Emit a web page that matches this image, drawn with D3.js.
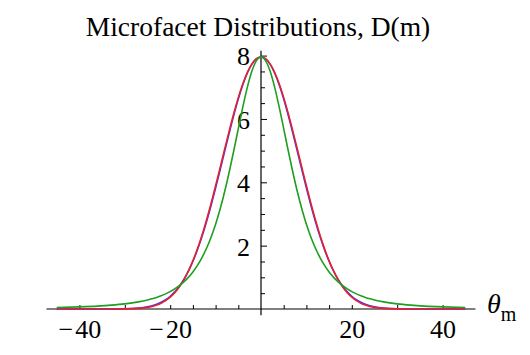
<!DOCTYPE html>
<html><head><meta charset="utf-8">
<script src="https://cdn.jsdelivr.net/npm/d3@7"></script>
<style>html,body{margin:0;padding:0;background:#fff;}svg{display:block;}</style>
</head><body>
<svg id="chart" width="530" height="355"></svg>
<script>
const title = "Microfacet Distributions, D(m)";
const thetas = [-45,-40,-36,-33,-30,-27,-25,-24,-23,-22,-21,-20,-19,-18,-17,-16,-15,-14,-13,-12,-11,-10,-9,-8,-7,-6,-5,-4,-3,-2,-1,0,1,2,3,4,5,6,7,8,9,10,11,12,13,14,15,16,17,18,19,20,21,22,23,24,25,27,30,33,36,40,45];
// Beckmann (red)
const beckmann = [0,0,0,0.0004,0.003,0.019,0.051,0.081,0.123,0.182,0.263,0.372,0.514,0.695,0.920,1.193,1.519,1.898,2.329,2.809,3.333,3.889,4.466,5.051,5.625,6.171,6.673,7.111,7.471,7.738,7.902,7.958,7.902,7.738,7.471,7.111,6.673,6.171,5.625,5.051,4.466,3.889,3.333,2.809,2.329,1.898,1.519,1.193,0.920,0.695,0.514,0.372,0.263,0.182,0.123,0.081,0.051,0.019,0.003,0.0004,0,0,0];
// Phong (blue)
const phong = [0,0,0.0003,0.002,0.008,0.031,0.071,0.104,0.149,0.211,0.294,0.402,0.541,0.716,0.932,1.195,1.507,1.872,2.289,2.756,3.268,3.817,4.391,4.977,5.557,6.114,6.627,7.079,7.451,7.729,7.900,7.958,7.900,7.729,7.451,7.079,6.627,6.114,5.557,4.977,4.391,3.817,3.268,2.756,2.289,1.872,1.507,1.195,0.932,0.716,0.541,0.402,0.294,0.211,0.149,0.104,0.071,0.031,0.008,0.002,0.0003,0,0];
// GGX (green)
const ggx = [0.047,0.067,0.092,0.121,0.162,0.225,0.285,0.322,0.366,0.417,0.478,0.549,0.634,0.734,0.855,0.998,1.170,1.376,1.623,1.917,2.266,2.678,3.158,3.709,4.325,4.995,5.693,6.381,7.006,7.512,7.843,7.958,7.843,7.512,7.006,6.381,5.693,4.995,4.325,3.709,3.158,2.678,2.266,1.917,1.623,1.376,1.170,0.998,0.855,0.734,0.634,0.549,0.478,0.417,0.366,0.322,0.285,0.225,0.162,0.121,0.092,0.067,0.047];
const xTicks = [-40,-30,-20,-15,-10,-5,5,10,15,20,30,40];
const xLabels = [-40,-20,20,40];
const yTicks = [0.5,1,1.5,2,2.5,3,3.5,4,4.5,5,5.5,6,6.5,7,7.5,8];
const yLabels = [2,4,6,8];

const series = [
  {name:"Phong", values: phong, color:"#3a3aff"},
  {name:"Beckmann", values: beckmann, color:"#e8202a"},
  {name:"GGX", values: ggx, color:"#1f9e1f"}
];

const svg = d3.select("#chart");
const font = "'Liberation Serif', 'Times New Roman', serif";
const x = d3.scaleLinear().domain([-47.25, 47.25]).range([46.5, 475.5]);
const y = d3.scaleLinear().domain([0, 8]).range([309, 55.6]);

// title
svg.append("text").attr("x", 258).attr("y", 36).attr("text-anchor","middle")
  .attr("font-family", font).attr("font-size", 27.5).attr("fill","#000").text(title);

// x axis
const gx = svg.append("g").attr("transform", `translate(0,${y(0)})`)
  .call(d3.axisBottom(x).tickValues(xTicks).tickSize(-4).tickPadding(11)
    .tickFormat(d => xLabels.includes(d) ? (d < 0 ? "\u2212\u200A" + Math.abs(d) : String(d)) : ""));
gx.select(".domain").remove();
gx.selectAll("line").attr("stroke","#000").attr("stroke-width",1);
gx.selectAll("text").attr("font-family", font).attr("font-size", 26).attr("fill","#000");
svg.append("line").attr("x1", x(-47.25)).attr("x2", x(47.25)).attr("y1", y(0)).attr("y2", y(0))
  .attr("stroke","#000").attr("stroke-width",1.2);

// y axis
const gy = svg.append("g").attr("transform", `translate(${x(0)},0)`)
  .call(d3.axisLeft(y).tickValues(yTicks).tickSize(-4).tickPadding(11)
    .tickFormat(d => yLabels.includes(d) ? String(d) : ""));
gy.select(".domain").remove();
gy.selectAll("line").attr("stroke","#000").attr("stroke-width",1);
gy.selectAll(".tick").filter(d => yLabels.includes(d)).select("line").attr("x2", 6);
gy.selectAll("text").attr("font-family", font).attr("font-size", 26).attr("fill","#000").attr("dy","0.36em");
svg.append("line").attr("x1", x(0)).attr("x2", x(0)).attr("y1", y(8.15)).attr("y2", y(-0.2))
  .attr("stroke","#000").attr("stroke-width",1.2);

// axis label theta_m
const lab = svg.append("text").attr("x", 487).attr("y", 313).attr("font-family", font).attr("fill","#000");
lab.append("tspan").attr("font-style","italic").attr("font-size", 28).text("\u03B8");
lab.append("tspan").attr("font-size", 20).attr("dy", 8).text("m");

// curves
const line = d3.line().x((d,i) => x(thetas[i])).y(d => y(d)).curve(d3.curveMonotoneX);
svg.append("g").selectAll("path").data(series).join("path")
  .attr("d", s => line(s.values))
  .attr("fill","none").attr("stroke", s => s.color).attr("stroke-width", 1.6)
  .attr("stroke-linejoin","round");
</script>
</body></html>
